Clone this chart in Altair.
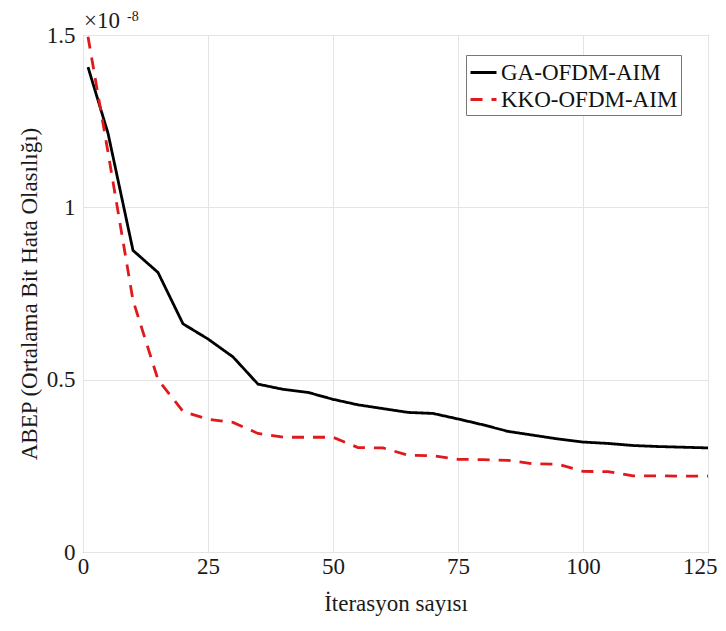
import altair as alt
import pandas as pd

iterations = [1, 5, 10, 15, 20, 25, 30, 35, 40, 45, 50, 55, 60, 65, 70, 75, 80, 85, 90, 95, 100, 105, 110, 115, 120, 125]
ga_abep = [1.407, 1.215, 0.875, 0.811, 0.662, 0.618, 0.566, 0.487, 0.472, 0.463, 0.443, 0.427, 0.416, 0.405, 0.402, 0.386, 0.369, 0.350, 0.339, 0.328, 0.319, 0.315, 0.309, 0.306, 0.304, 0.302]
kko_abep = [1.495, 1.160, 0.730, 0.500, 0.408, 0.385, 0.376, 0.344, 0.333, 0.333, 0.333, 0.303, 0.302, 0.281, 0.279, 0.269, 0.268, 0.266, 0.256, 0.255, 0.234, 0.233, 0.221, 0.221, 0.220, 0.220]
series_names = ["GA-OFDM-AIM", "KKO-OFDM-AIM"]
x_ticks = [0, 25, 50, 75, 100, 125]
y_ticks = [0, 0.5, 1, 1.5]
exp_base = ["×10"]
exp_power = ["-8"]

rows = []
for i, it in enumerate(iterations):
    rows.append({"iter": it, "abep": ga_abep[i], "series": series_names[0]})
for i, it in enumerate(iterations):
    rows.append({"iter": it, "abep": kko_abep[i], "series": series_names[1]})
df = pd.DataFrame(rows)

FONT = "Liberation Serif"
TXT = "#1a1a1a"

legend_cfg = dict(
    title=None,
    orient="none",
    legendX=383,
    legendY=20,
    labelFont=FONT,
    labelFontSize=23,
    labelColor="#111",
    labelLimit=400,
    symbolType="stroke",
    symbolSize=676,
    symbolStrokeWidth=2.8,
    strokeColor="#777",
    fillColor="white",
    padding=3,
    rowPadding=0,
    labelOffset=3,
)

last_tick = "datum.value === 125"

lines = alt.Chart(df).mark_line(strokeWidth=2.8).encode(
    x=alt.X(
        "iter:Q",
        scale=alt.Scale(domain=[0, 125], nice=False),
        axis=alt.Axis(
            values=x_ticks, title="İterasyon sayısı", format="d",
            labelPadding=3, titlePadding=14, labelFlush=False,
            labelAlign={"condition": {"test": last_tick, "value": "right"}, "value": "center"},
            labelOffset={"condition": {"test": last_tick, "value": 9}, "value": 0},
        ),
    ),
    y=alt.Y(
        "abep:Q",
        scale=alt.Scale(domain=[0, 1.5], nice=False),
        axis=alt.Axis(
            values=y_ticks, title="ABEP (Ortalama Bit Hata Olasılığı)", format="~g",
            labelPadding=8, titlePadding=5, labelFlush=False,
        ),
    ),
    color=alt.Color(
        "series:N",
        scale=alt.Scale(domain=series_names, range=["#000000", "#e0191c"]),
        legend=alt.Legend(**legend_cfg),
    ),
    strokeDash=alt.StrokeDash(
        "series:N",
        scale=alt.Scale(domain=series_names, range=[[1, 0], [12, 9]]),
        legend=alt.Legend(**legend_cfg),
    ),
    order=alt.Order("iter:Q"),
)

base_txt = alt.Chart(pd.DataFrame({"t": exp_base})).mark_text(
    font=FONT, fontSize=23, align="left", baseline="alphabetic", color=TXT
).encode(text="t:N", x=alt.value(1), y=alt.value(-7))

power_txt = alt.Chart(pd.DataFrame({"t": exp_power})).mark_text(
    font=FONT, fontSize=14, align="left", baseline="alphabetic", color=TXT
).encode(text="t:N", x=alt.value(44), y=alt.value(-14))

chart = alt.layer(lines, base_txt, power_txt).properties(
    width=625,
    height=517,
    autosize=alt.AutoSizeParams(type="none"),
    padding={"left": 75, "top": 27, "right": 10, "bottom": 70},
).configure_view(
    stroke="#777", strokeWidth=1
).configure_axis(
    labelFont=FONT, titleFont=FONT, labelFontSize=23, titleFontSize=23,
    labelColor=TXT, titleColor=TXT, titleFontWeight="normal",
    grid=True, gridColor="#e4e4e4", gridWidth=1,
    ticks=False, domain=False,
)

chart.save("out.html", embed_options={"renderer": "svg", "actions": False})
